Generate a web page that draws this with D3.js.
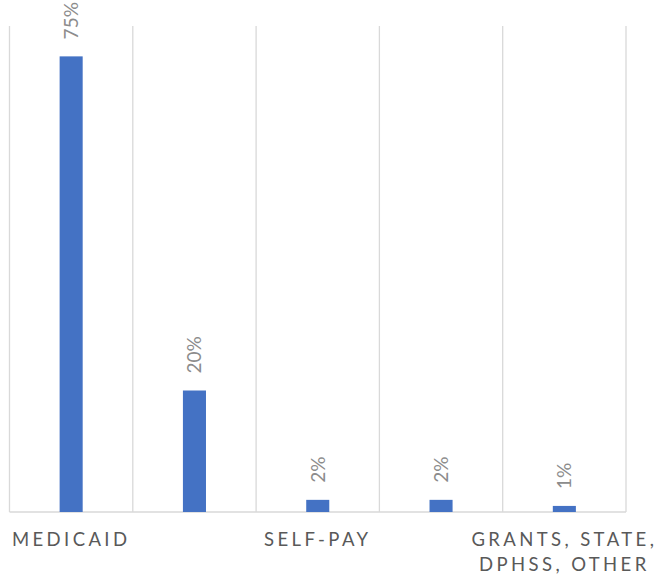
<!DOCTYPE html>
<html>
<head>
<meta charset="utf-8">
<script src="https://cdn.jsdelivr.net/npm/d3@7"></script>
<style>
  html, body { margin: 0; padding: 0; background: #fff; }
  svg { display: block; }
</style>
</head>
<body>
<svg id="chart" width="664" height="580"></svg>
<script>
// Payer mix, share of clients (%)
const categories = ["MEDICAID", "", "SELF-PAY", "", "GRANTS, STATE,\nDPHSS, OTHER"];
const values = [75, 20, 2, 2, 1];
const valueLabels = ["75%", "20%", "2%", "2%", "1%"];
const yDomain = [0, 80];

const W = 664, H = 580;
const plot = { left: 9.5, right: 626, top: 26, bottom: 512 };

const svg = d3.select("#chart");

const x = d3.scaleBand()
  .domain(d3.range(categories.length))
  .range([plot.left, plot.right])
  .paddingInner(0).paddingOuter(0);

const y = d3.scaleLinear().domain(yDomain).range([plot.bottom, plot.top]);

// vertical category separators
const edges = d3.range(categories.length + 1).map(i => plot.left + i * x.step());
svg.append("g").selectAll("line").data(edges).join("line")
  .attr("x1", d => d).attr("x2", d => d)
  .attr("y1", y(yDomain[1])).attr("y2", y(0))
  .attr("stroke", "#d9d9d9").attr("stroke-width", 1.3);

// baseline
svg.append("line")
  .attr("x1", plot.left).attr("x2", plot.right)
  .attr("y1", y(0)).attr("y2", y(0))
  .attr("stroke", "#d9d9d9").attr("stroke-width", 1.5);

const barW = x.bandwidth() * 0.187;

svg.append("g").selectAll("rect").data(values).join("rect")
  .attr("x", (d, i) => x(i) + x.bandwidth() / 2 - barW / 2)
  .attr("width", barW)
  .attr("y", d => y(d))
  .attr("height", d => y(0) - y(d))
  .attr("fill", "#4472c4");

// rotated value labels above bars
svg.append("g").selectAll("text").data(values).join("text")
  .attr("transform", (d, i) => `translate(${x(i) + x.bandwidth() / 2},${y(d) - 17}) rotate(-90)`)
  .attr("dy", "0.36em")
  .attr("text-anchor", "start")
  .attr("font-family", "Lato, 'Open Sans', sans-serif")
  .attr("font-size", 19)
  .attr("fill", "#8c8c8c")
  .text((d, i) => valueLabels[i]);

// category labels, spaced capitals
const catG = svg.append("g");
categories.forEach((c, i) => {
  if (!c) return;
  const t = catG.append("text")
    .attr("x", x(i) + x.bandwidth() / 2)
    .attr("y", 546)
    .attr("text-anchor", "middle")
    .attr("font-family", "Lato, 'Open Sans', sans-serif")
    .attr("font-size", 18.5)
    .attr("letter-spacing", 3.4)
    .attr("fill", "#595959");
  c.split("\n").forEach((line, k) => {
    t.append("tspan")
      .attr("x", x(i) + x.bandwidth() / 2)
      .attr("dy", k === 0 ? 0 : 25)
      .text(line);
  });
});
</script>
</body>
</html>
